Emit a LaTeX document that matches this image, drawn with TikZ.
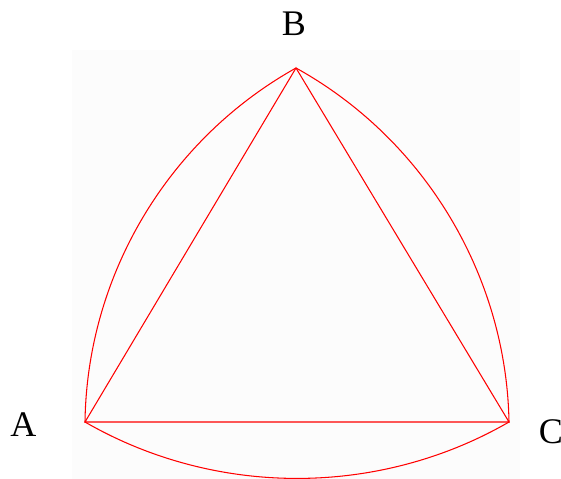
\documentclass[tikz,border=0pt]{standalone}
\usepackage{fontspec}
\setmainfont{Liberation Serif}
\definecolor{paper}{HTML}{FCFCFC}
\begin{document}
\begin{tikzpicture}[x=0.02cm, y=-0.02cm,
    side/.style={red, line width=0.6pt},
    vlabel/.style={inner sep=0pt, font=\fontsize{20.5}{24}\selectfont}]
    \useasboundingbox (0,0) rectangle (561,479);
    \fill[paper] (72,50) rectangle (520,479);

    % Vertices
    \coordinate (A) at (85,422);
    \coordinate (B) at (296,68);
    \coordinate (C) at (509,422);
    \node[vlabel] (labA) at (23.5,425) {A};
    \node[vlabel] (labB) at (294,24) {B};
    \node[vlabel] (labC) at (551,432) {C};

    % Triangle
    \draw[side] (A) -- (B) -- (C) -- cycle;

    % Arcs
    \draw[side] (A) to[bend left=30, looseness=0.91] (B);
    \draw[side] (B) to[bend left=30, looseness=0.91] (C);
    \draw[side] (C) to[bend left=30, looseness=0.91] (A);
\end{tikzpicture}
\end{document}
